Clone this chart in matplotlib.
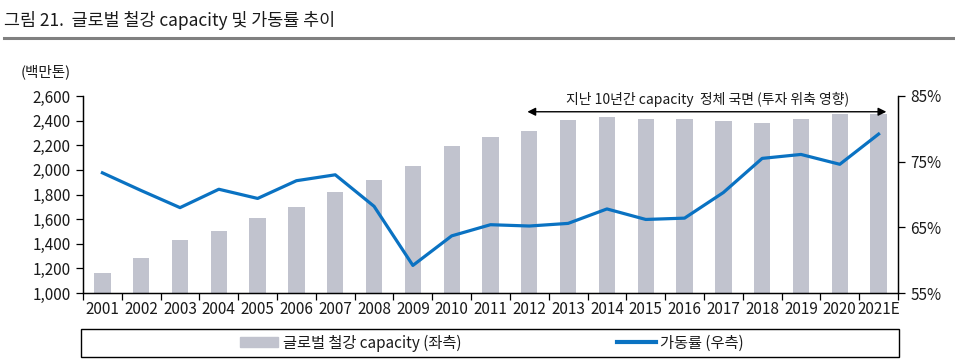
import numpy as np
import matplotlib
matplotlib.use("Agg")
import matplotlib.pyplot as plt
from matplotlib.patches import Rectangle, Patch
from matplotlib.lines import Line2D

plt.rcParams['font.family'] = ['Noto Sans CJK KR', 'DejaVu Sans']

# 데이터
years = ['2001', '2002', '2003', '2004', '2005', '2006', '2007', '2008', '2009', '2010',
         '2011', '2012', '2013', '2014', '2015', '2016', '2017', '2018', '2019', '2020', '2021E']
capacity = [1165, 1287, 1431, 1504, 1610, 1699, 1818, 1915, 2035, 2195,
            2265, 2317, 2409, 2431, 2417, 2415, 2400, 2379, 2415, 2455, 2455]
utilization = [73.3, 70.6, 68.0, 70.8, 69.4, 72.1, 73.0, 68.2, 59.2, 63.7,
               65.4, 65.2, 65.6, 67.8, 66.2, 66.4, 70.3, 75.5, 76.1, 74.6, 79.2]
left_ticks = [1000, 1200, 1400, 1600, 1800, 2000, 2200, 2400, 2600]
right_ticks = [55, 65, 75, 85]

bar_color = '#C1C3CE'
line_color = '#0A72C2'
txt = '#1a1a1a'

fig = plt.figure(figsize=(9.55, 3.63), dpi=100)
W, H = 955, 363
ax = fig.add_axes([83 / W, (H - 293) / H, (898 - 83) / W, (293 - 96) / H])
ax2 = ax.twinx()

x = np.arange(len(years))
ax.bar(x, capacity, width=0.42, color=bar_color, zorder=1)
ax2.plot(x, utilization, color=line_color, lw=2.3, zorder=3)

ax.set_xlim(-0.5, len(years) - 0.5)
ax.set_ylim(1000, 2600)
ax2.set_ylim(55, 85)
ax.set_yticks(left_ticks)
ax.set_yticklabels([f'{v:,}' for v in left_ticks])
ax2.set_yticks(right_ticks)
ax2.set_yticklabels([f'{v}%' for v in right_ticks])

# x축: 경계에 눈금, 가운데에 라벨
ax.set_xticks(np.arange(len(years) + 1) - 0.5)
ax.set_xticklabels([])
ax.set_xticks(x, minor=True)
ax.set_xticklabels(years, minor=True)
ax.tick_params(axis='x', which='major', direction='out', length=5, width=0.9)
ax.tick_params(axis='x', which='minor', length=0, pad=6, labelsize=11, labelcolor=txt)
ax.tick_params(axis='y', direction='out', length=5, width=0.9, labelsize=11, labelcolor=txt, pad=4)
ax2.tick_params(axis='y', direction='out', length=5, width=0.9, labelsize=11, labelcolor=txt, pad=4)

for a in (ax, ax2):
    a.spines['top'].set_visible(False)
    for s in ('left', 'right', 'bottom'):
        a.spines[s].set_linewidth(0.9)
ax.set_zorder(ax2.get_zorder() - 1)
ax2.patch.set_visible(False)

# 주석 화살표
ax.annotate('', xy=(20.2, 0.92), xytext=(10.95, 0.92),
            xycoords=('data', 'axes fraction'), textcoords=('data', 'axes fraction'),
            arrowprops=dict(arrowstyle='<|-|>', color='black', lw=1.0,
                            mutation_scale=12, shrinkA=0, shrinkB=0))
ax.text(15.6, 0.98, '지난 10년간 capacity  정체 국면 (투자 위축 영향)',
        transform=ax.get_xaxis_transform(), ha='center', va='center',
        fontsize=10, color=txt)

# 제목, 단위
fig.text(4 / W, 1 - 20 / H, '그림 21.  글로벌 철강 capacity 및 가동률 추이',
         fontsize=12.5, color=txt, ha='left', va='center')
fig.add_artist(Line2D([4 / W, 1], [1 - 37.7 / H] * 2, color='#808080', lw=2.2))
fig.text(21 / W, 1 - 72 / H, '(백만톤)', fontsize=10.5, color=txt, ha='left', va='center')

# 범례
fig.add_artist(Rectangle((81 / W, (H - 357) / H), (899 - 81) / W, 28 / H,
                         transform=fig.transFigure, fill=False, ec='black', lw=1.0))
handles = [Patch(color=bar_color, label='글로벌 철강 capacity (좌측)'),
           Line2D([], [], color=line_color, lw=3, label='가동률 (우측)')]
fig.legend(handles=handles, loc='center', bbox_to_anchor=(492 / W, 1 - 343 / H),
           ncol=2, frameon=False, fontsize=11, handlelength=2.5, handleheight=0.6,
           handletextpad=0.3, columnspacing=10.2, labelcolor=txt)

fig.savefig('out.png', dpi=100)
